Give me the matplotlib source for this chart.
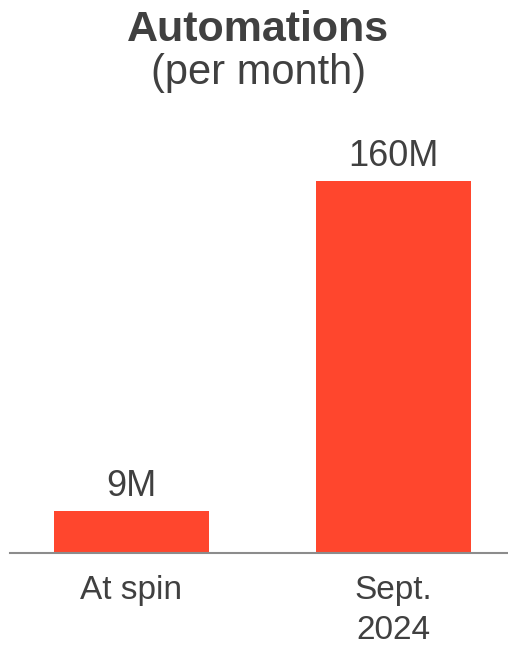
import matplotlib.pyplot as plt

plt.rcParams['font.family'] = ['Liberation Sans', 'DejaVu Sans']

categories = ["At spin", "Sept.\n2024"]
bar_heights = [18, 160]          # visual heights as drawn in the reference
value_labels = ["9M", "160M"]

bar_color = "#FF462D"
text_color = "#404040"


def main():
    fig = plt.figure(figsize=(5.08, 6.45), dpi=100)
    ax = fig.add_axes([10 / 508, 92 / 645, 498 / 508, 372 / 645])

    x = list(range(len(categories)))
    bars = ax.bar(x, bar_heights, width=0.5916, color=bar_color)
    ax.set_xlim(-0.4637, 1.437)
    ax.set_ylim(0, 160)

    for rect, lab in zip(bars, value_labels):
        ax.annotate(lab, (rect.get_x() + rect.get_width() / 2, rect.get_height()),
                    xytext=(0, 11), textcoords="offset points",
                    ha="center", va="baseline", fontsize=26, color=text_color,
                    annotation_clip=False)

    ax.set_xticks(x)
    ax.set_xticklabels(categories, fontsize=24, color=text_color, linespacing=1.35)
    ax.tick_params(axis="x", length=0, pad=16)
    ax.set_yticks([])
    for side in ["left", "right", "top"]:
        ax.spines[side].set_visible(False)
    ax.spines["bottom"].set_color("#8c8c8c")
    ax.spines["bottom"].set_linewidth(1.5)

    fig.text(258 / 508, 1 - 41 / 645, "Automations", ha="center", va="baseline",
             fontsize=31, fontweight="bold", color=text_color)
    fig.text(259 / 508, 1 - 84 / 645, "(per month)", ha="center", va="baseline",
             fontsize=30, color=text_color)

    fig.savefig("out.png", dpi=100)


if __name__ == "__main__":
    main()
